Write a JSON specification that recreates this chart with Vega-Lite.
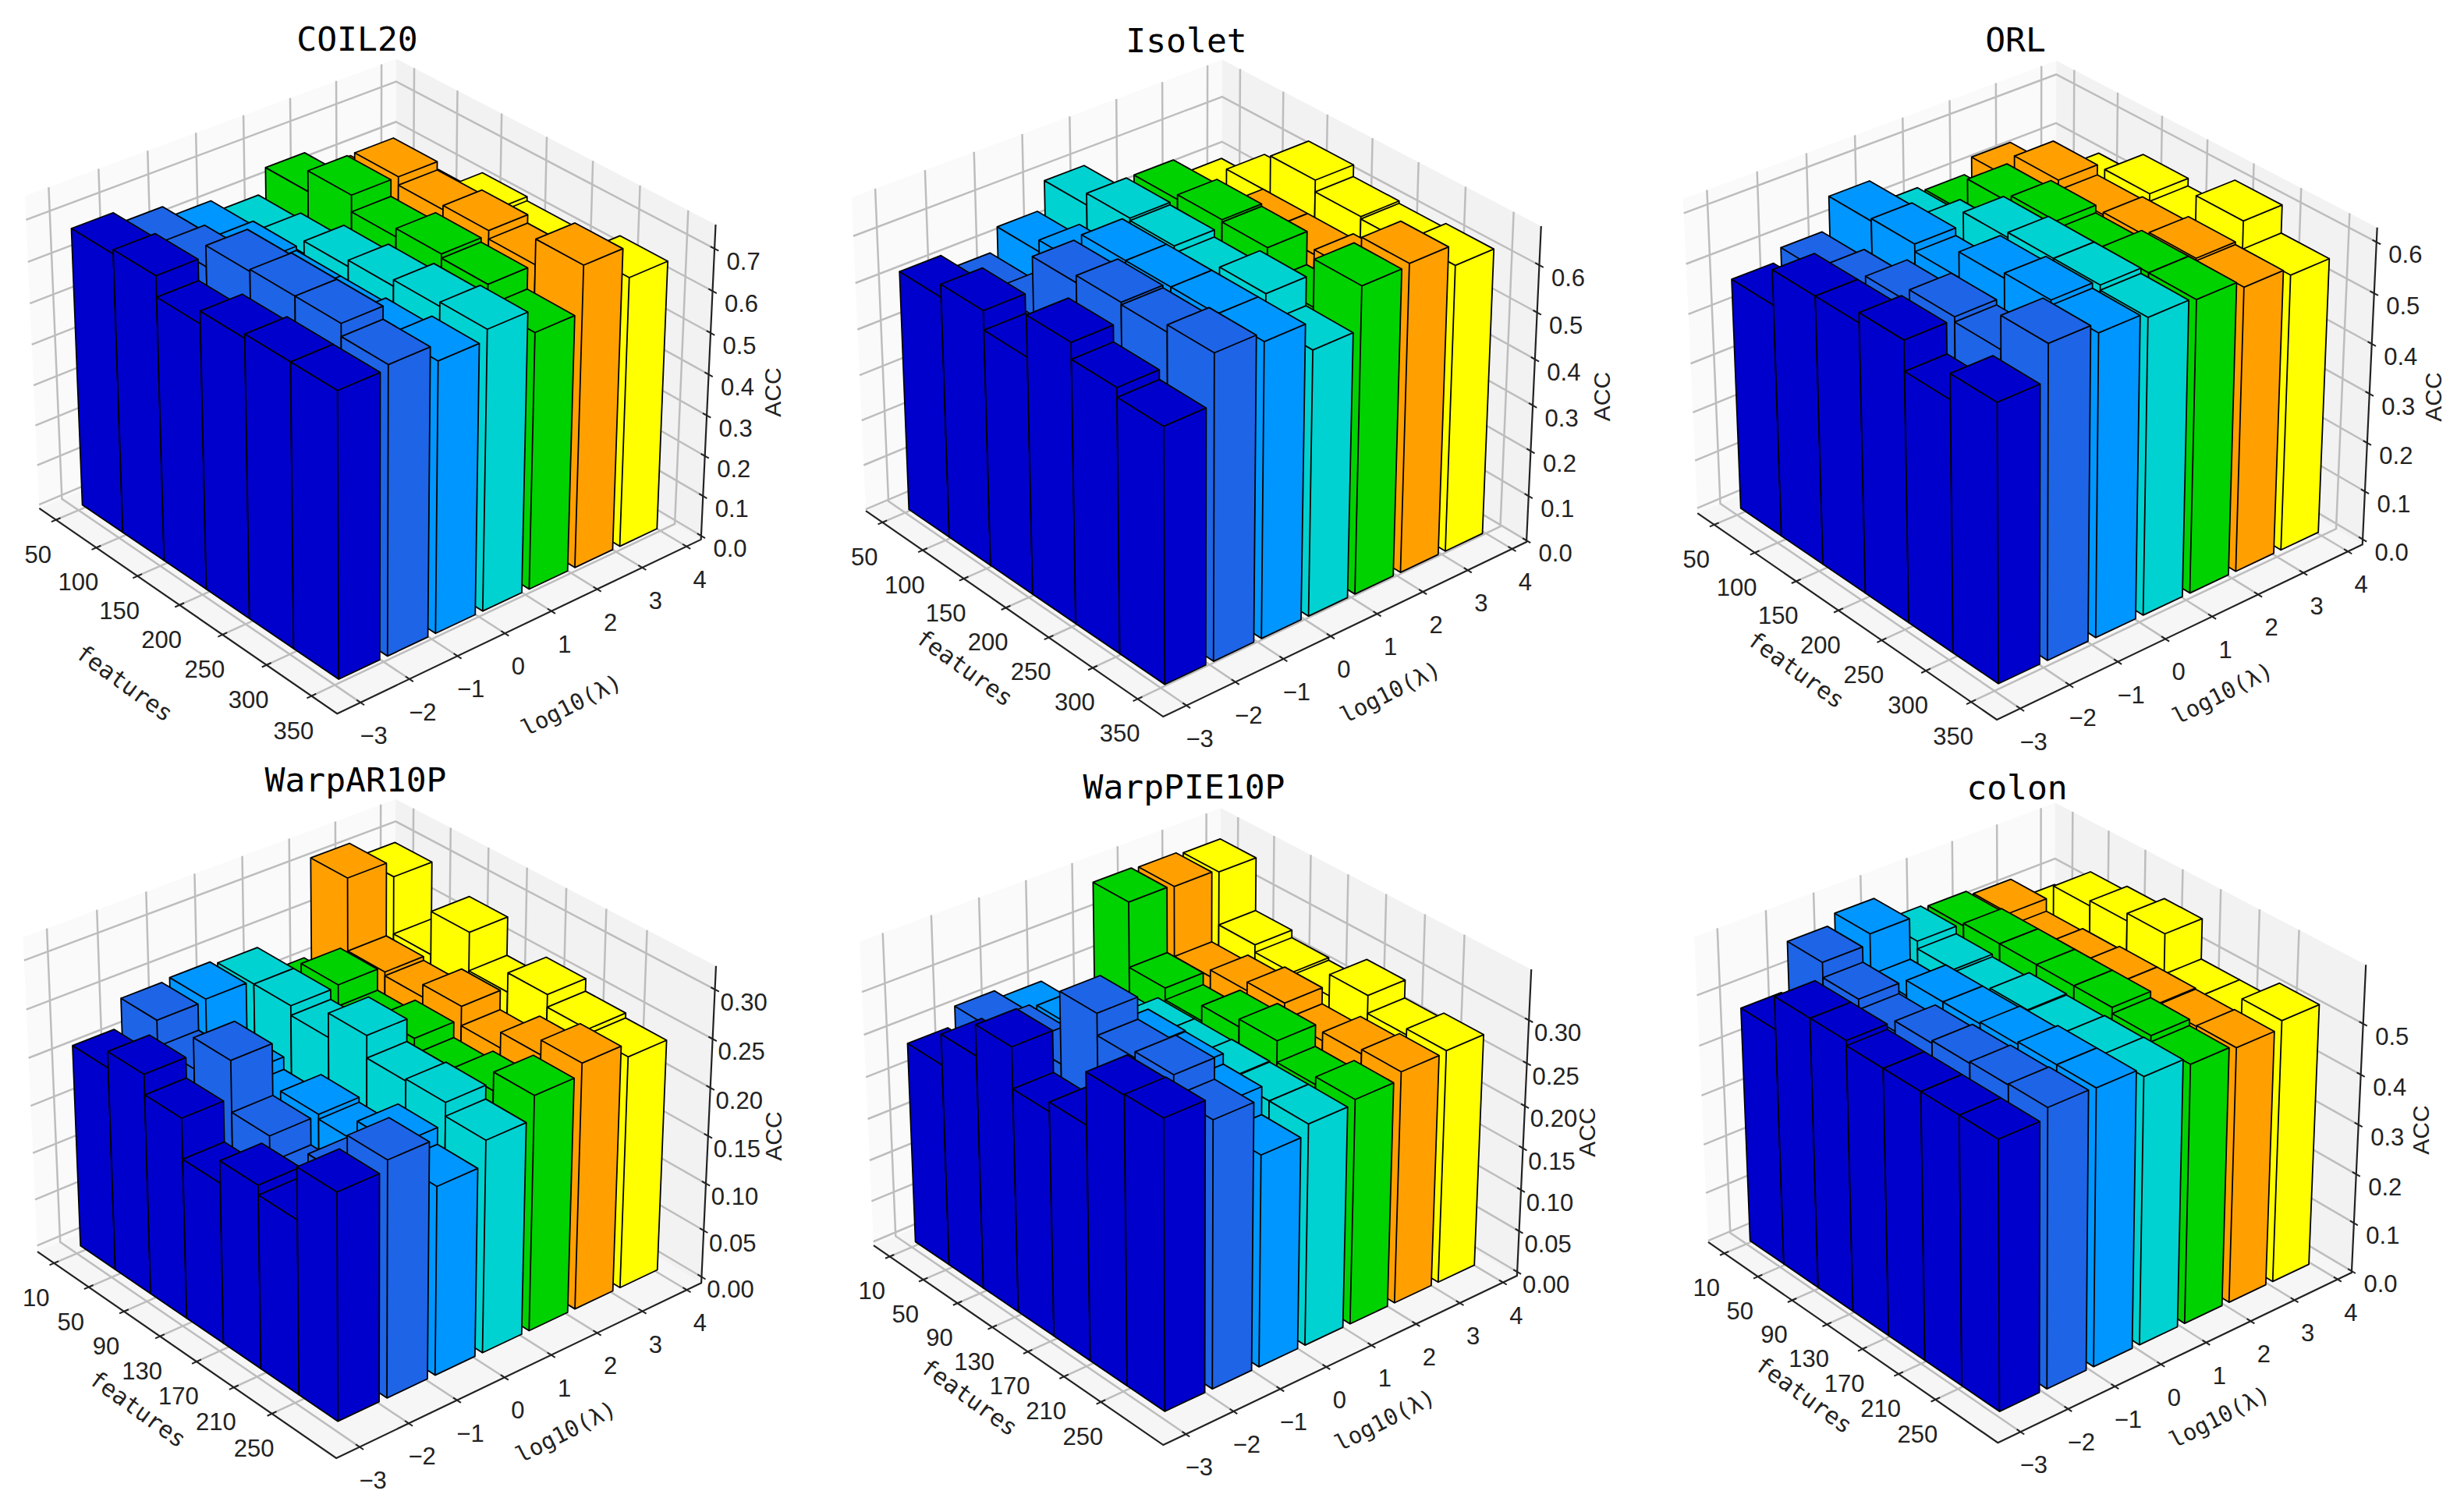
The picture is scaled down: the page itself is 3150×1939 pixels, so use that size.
{"$schema":"https://vega.github.io/schema/vega-lite/v6.json","width":3150,"height":1939,"autosize":{"type":"fit","contains":"padding"},"padding":0,"background":"white","config":{"view":{"stroke":null}},
"params":[{"name":"P","value":{
"COIL20":{"ox":472,"oy":475,"s":615,"t":619,"f0":29,"R":349,"dx":50,"w0":0.0125,"c":1.306,"tx":458,"ty":52,"fx":-313,"fy":402,"lx":261,"ly":430,"ax":520,"ay":28},
"Isolet":{"ox":1531,"oy":477.5,"s":614,"t":621,"f0":29,"R":349,"dx":50,"w0":0.005,"c":1.46,"tx":1521,"ty":54,"fx":-295,"fy":380,"lx":252,"ly":411,"ax":524,"ay":31},
"ORL":{"ox":2600,"oy":480,"s":618,"t":623,"f0":29,"R":349,"dx":50,"w0":0.017,"c":1.565,"tx":2584,"ty":53,"fx":-298,"fy":380,"lx":250,"ly":410,"ax":521,"ay":29},
"WarpAR10P":{"ox":471,"oy":1427,"s":617,"t":623,"f0":-9.5,"R":325.5,"dx":40,"w0":0.02,"c":3.03,"tx":456,"ty":1002,"fx":-295,"fy":381,"lx":255,"ly":410,"ax":522,"ay":30},
"WarpPIE10P":{"ox":1530,"oy":1425,"s":598,"t":602,"f0":-9.5,"R":325.5,"dx":40,"w0":0.013,"c":2.757,"tx":1518,"ty":1011,"fx":-288,"fy":368,"lx":246,"ly":397,"ax":506,"ay":27},
"colon":{"ox":2600,"oy":1420,"s":598,"t":605,"f0":-9.5,"R":325.5,"dx":40,"w0":0.005,"c":1.62,"tx":2586,"ty":1012,"fx":-288,"fy":370,"lx":246,"ly":398,"ax":505,"ay":29}}}],
"datasets":{
"panels":[{"p":"COIL20"},{"p":"Isolet"},{"p":"ORL"},{"p":"WarpAR10P"},{"p":"WarpPIE10P"},{"p":"colon"}],
"ticks":[
{"p":"COIL20","a":"f","t":50,"s":"50"},{"p":"COIL20","a":"f","t":100,"s":"100"},{"p":"COIL20","a":"f","t":150,"s":"150"},{"p":"COIL20","a":"f","t":200,"s":"200"},{"p":"COIL20","a":"f","t":250,"s":"250"},{"p":"COIL20","a":"f","t":300,"s":"300"},{"p":"COIL20","a":"f","t":350,"s":"350"},
{"p":"Isolet","a":"f","t":50,"s":"50"},{"p":"Isolet","a":"f","t":100,"s":"100"},{"p":"Isolet","a":"f","t":150,"s":"150"},{"p":"Isolet","a":"f","t":200,"s":"200"},{"p":"Isolet","a":"f","t":250,"s":"250"},{"p":"Isolet","a":"f","t":300,"s":"300"},{"p":"Isolet","a":"f","t":350,"s":"350"},
{"p":"ORL","a":"f","t":50,"s":"50"},{"p":"ORL","a":"f","t":100,"s":"100"},{"p":"ORL","a":"f","t":150,"s":"150"},{"p":"ORL","a":"f","t":200,"s":"200"},{"p":"ORL","a":"f","t":250,"s":"250"},{"p":"ORL","a":"f","t":300,"s":"300"},{"p":"ORL","a":"f","t":350,"s":"350"},
{"p":"WarpAR10P","a":"f","t":10,"s":"10"},{"p":"WarpAR10P","a":"f","t":50,"s":"50"},{"p":"WarpAR10P","a":"f","t":90,"s":"90"},{"p":"WarpAR10P","a":"f","t":130,"s":"130"},{"p":"WarpAR10P","a":"f","t":170,"s":"170"},{"p":"WarpAR10P","a":"f","t":210,"s":"210"},{"p":"WarpAR10P","a":"f","t":250,"s":"250"},
{"p":"WarpPIE10P","a":"f","t":10,"s":"10"},{"p":"WarpPIE10P","a":"f","t":50,"s":"50"},{"p":"WarpPIE10P","a":"f","t":90,"s":"90"},{"p":"WarpPIE10P","a":"f","t":130,"s":"130"},{"p":"WarpPIE10P","a":"f","t":170,"s":"170"},{"p":"WarpPIE10P","a":"f","t":210,"s":"210"},{"p":"WarpPIE10P","a":"f","t":250,"s":"250"},
{"p":"colon","a":"f","t":10,"s":"10"},{"p":"colon","a":"f","t":50,"s":"50"},{"p":"colon","a":"f","t":90,"s":"90"},{"p":"colon","a":"f","t":130,"s":"130"},{"p":"colon","a":"f","t":170,"s":"170"},{"p":"colon","a":"f","t":210,"s":"210"},{"p":"colon","a":"f","t":250,"s":"250"},
{"p":"COIL20","a":"l","t":-3,"s":"−3"},{"p":"COIL20","a":"l","t":-2,"s":"−2"},{"p":"COIL20","a":"l","t":-1,"s":"−1"},{"p":"COIL20","a":"l","t":0,"s":"0"},{"p":"COIL20","a":"l","t":1,"s":"1"},{"p":"COIL20","a":"l","t":2,"s":"2"},{"p":"COIL20","a":"l","t":3,"s":"3"},{"p":"COIL20","a":"l","t":4,"s":"4"},
{"p":"Isolet","a":"l","t":-3,"s":"−3"},{"p":"Isolet","a":"l","t":-2,"s":"−2"},{"p":"Isolet","a":"l","t":-1,"s":"−1"},{"p":"Isolet","a":"l","t":0,"s":"0"},{"p":"Isolet","a":"l","t":1,"s":"1"},{"p":"Isolet","a":"l","t":2,"s":"2"},{"p":"Isolet","a":"l","t":3,"s":"3"},{"p":"Isolet","a":"l","t":4,"s":"4"},
{"p":"ORL","a":"l","t":-3,"s":"−3"},{"p":"ORL","a":"l","t":-2,"s":"−2"},{"p":"ORL","a":"l","t":-1,"s":"−1"},{"p":"ORL","a":"l","t":0,"s":"0"},{"p":"ORL","a":"l","t":1,"s":"1"},{"p":"ORL","a":"l","t":2,"s":"2"},{"p":"ORL","a":"l","t":3,"s":"3"},{"p":"ORL","a":"l","t":4,"s":"4"},
{"p":"WarpAR10P","a":"l","t":-3,"s":"−3"},{"p":"WarpAR10P","a":"l","t":-2,"s":"−2"},{"p":"WarpAR10P","a":"l","t":-1,"s":"−1"},{"p":"WarpAR10P","a":"l","t":0,"s":"0"},{"p":"WarpAR10P","a":"l","t":1,"s":"1"},{"p":"WarpAR10P","a":"l","t":2,"s":"2"},{"p":"WarpAR10P","a":"l","t":3,"s":"3"},{"p":"WarpAR10P","a":"l","t":4,"s":"4"},
{"p":"WarpPIE10P","a":"l","t":-3,"s":"−3"},{"p":"WarpPIE10P","a":"l","t":-2,"s":"−2"},{"p":"WarpPIE10P","a":"l","t":-1,"s":"−1"},{"p":"WarpPIE10P","a":"l","t":0,"s":"0"},{"p":"WarpPIE10P","a":"l","t":1,"s":"1"},{"p":"WarpPIE10P","a":"l","t":2,"s":"2"},{"p":"WarpPIE10P","a":"l","t":3,"s":"3"},{"p":"WarpPIE10P","a":"l","t":4,"s":"4"},
{"p":"colon","a":"l","t":-3,"s":"−3"},{"p":"colon","a":"l","t":-2,"s":"−2"},{"p":"colon","a":"l","t":-1,"s":"−1"},{"p":"colon","a":"l","t":0,"s":"0"},{"p":"colon","a":"l","t":1,"s":"1"},{"p":"colon","a":"l","t":2,"s":"2"},{"p":"colon","a":"l","t":3,"s":"3"},{"p":"colon","a":"l","t":4,"s":"4"},
{"p":"COIL20","a":"z","t":0,"s":"0.0"},{"p":"COIL20","a":"z","t":0.1,"s":"0.1"},{"p":"COIL20","a":"z","t":0.2,"s":"0.2"},{"p":"COIL20","a":"z","t":0.3,"s":"0.3"},{"p":"COIL20","a":"z","t":0.4,"s":"0.4"},{"p":"COIL20","a":"z","t":0.5,"s":"0.5"},{"p":"COIL20","a":"z","t":0.6,"s":"0.6"},{"p":"COIL20","a":"z","t":0.7,"s":"0.7"},
{"p":"Isolet","a":"z","t":0,"s":"0.0"},{"p":"Isolet","a":"z","t":0.1,"s":"0.1"},{"p":"Isolet","a":"z","t":0.2,"s":"0.2"},{"p":"Isolet","a":"z","t":0.3,"s":"0.3"},{"p":"Isolet","a":"z","t":0.4,"s":"0.4"},{"p":"Isolet","a":"z","t":0.5,"s":"0.5"},{"p":"Isolet","a":"z","t":0.6,"s":"0.6"},
{"p":"ORL","a":"z","t":0,"s":"0.0"},{"p":"ORL","a":"z","t":0.1,"s":"0.1"},{"p":"ORL","a":"z","t":0.2,"s":"0.2"},{"p":"ORL","a":"z","t":0.3,"s":"0.3"},{"p":"ORL","a":"z","t":0.4,"s":"0.4"},{"p":"ORL","a":"z","t":0.5,"s":"0.5"},{"p":"ORL","a":"z","t":0.6,"s":"0.6"},
{"p":"WarpAR10P","a":"z","t":0,"s":"0.00"},{"p":"WarpAR10P","a":"z","t":0.05,"s":"0.05"},{"p":"WarpAR10P","a":"z","t":0.1,"s":"0.10"},{"p":"WarpAR10P","a":"z","t":0.15,"s":"0.15"},{"p":"WarpAR10P","a":"z","t":0.2,"s":"0.20"},{"p":"WarpAR10P","a":"z","t":0.25,"s":"0.25"},{"p":"WarpAR10P","a":"z","t":0.3,"s":"0.30"},
{"p":"WarpPIE10P","a":"z","t":0,"s":"0.00"},{"p":"WarpPIE10P","a":"z","t":0.05,"s":"0.05"},{"p":"WarpPIE10P","a":"z","t":0.1,"s":"0.10"},{"p":"WarpPIE10P","a":"z","t":0.15,"s":"0.15"},{"p":"WarpPIE10P","a":"z","t":0.2,"s":"0.20"},{"p":"WarpPIE10P","a":"z","t":0.25,"s":"0.25"},{"p":"WarpPIE10P","a":"z","t":0.3,"s":"0.30"},
{"p":"colon","a":"z","t":0,"s":"0.0"},{"p":"colon","a":"z","t":0.1,"s":"0.1"},{"p":"colon","a":"z","t":0.2,"s":"0.2"},{"p":"colon","a":"z","t":0.3,"s":"0.3"},{"p":"colon","a":"z","t":0.4,"s":"0.4"},{"p":"colon","a":"z","t":0.5,"s":"0.5"}],
"bars":[
{"p":"COIL20","f":50,"l":3,"acc":0.53},{"p":"COIL20","f":50,"l":2,"acc":0.60},{"p":"COIL20","f":50,"l":1,"acc":0.65},{"p":"COIL20","f":50,"l":0,"acc":0.59},{"p":"COIL20","f":50,"l":-1,"acc":0.62},{"p":"COIL20","f":50,"l":-2,"acc":0.65},{"p":"COIL20","f":50,"l":-3,"acc":0.68},
{"p":"COIL20","f":100,"l":3,"acc":0.58},{"p":"COIL20","f":100,"l":2,"acc":0.70},{"p":"COIL20","f":100,"l":1,"acc":0.70},{"p":"COIL20","f":100,"l":0,"acc":0.605},{"p":"COIL20","f":100,"l":-1,"acc":0.63},{"p":"COIL20","f":100,"l":-2,"acc":0.665},{"p":"COIL20","f":100,"l":-3,"acc":0.69},
{"p":"COIL20","f":150,"l":3,"acc":0.63},{"p":"COIL20","f":150,"l":2,"acc":0.68},{"p":"COIL20","f":150,"l":1,"acc":0.66},{"p":"COIL20","f":150,"l":0,"acc":0.635},{"p":"COIL20","f":150,"l":-1,"acc":0.62},{"p":"COIL20","f":150,"l":-2,"acc":0.715},{"p":"COIL20","f":150,"l":-3,"acc":0.64},
{"p":"COIL20","f":200,"l":3,"acc":0.62},{"p":"COIL20","f":200,"l":2,"acc":0.69},{"p":"COIL20","f":200,"l":1,"acc":0.68},{"p":"COIL20","f":200,"l":0,"acc":0.65},{"p":"COIL20","f":200,"l":-1,"acc":0.62},{"p":"COIL20","f":200,"l":-2,"acc":0.72},{"p":"COIL20","f":200,"l":-3,"acc":0.67},
{"p":"COIL20","f":250,"l":3,"acc":0.60},{"p":"COIL20","f":250,"l":2,"acc":0.67},{"p":"COIL20","f":250,"l":1,"acc":0.67},{"p":"COIL20","f":250,"l":0,"acc":0.665},{"p":"COIL20","f":250,"l":-1,"acc":0.63},{"p":"COIL20","f":250,"l":-2,"acc":0.72},{"p":"COIL20","f":250,"l":-3,"acc":0.68},
{"p":"COIL20","f":300,"l":3,"acc":0.655},{"p":"COIL20","f":300,"l":2,"acc":0.73},{"p":"COIL20","f":300,"l":1,"acc":0.62},{"p":"COIL20","f":300,"l":0,"acc":0.675},{"p":"COIL20","f":300,"l":-1,"acc":0.65},{"p":"COIL20","f":300,"l":-2,"acc":0.69},{"p":"COIL20","f":300,"l":-3,"acc":0.68},
{"p":"Isolet","f":50,"l":3,"acc":0.50},{"p":"Isolet","f":50,"l":2,"acc":0.47},{"p":"Isolet","f":50,"l":1,"acc":0.52},{"p":"Isolet","f":50,"l":0,"acc":0.60},{"p":"Isolet","f":50,"l":-1,"acc":0.54},{"p":"Isolet","f":50,"l":-2,"acc":0.49},{"p":"Isolet","f":50,"l":-3,"acc":0.525},
{"p":"Isolet","f":100,"l":3,"acc":0.56},{"p":"Isolet","f":100,"l":2,"acc":0.54},{"p":"Isolet","f":100,"l":1,"acc":0.625},{"p":"Isolet","f":100,"l":0,"acc":0.625},{"p":"Isolet","f":100,"l":-1,"acc":0.565},{"p":"Isolet","f":100,"l":-2,"acc":0.50},{"p":"Isolet","f":100,"l":-3,"acc":0.553},
{"p":"Isolet","f":150,"l":3,"acc":0.64},{"p":"Isolet","f":150,"l":2,"acc":0.575},{"p":"Isolet","f":150,"l":1,"acc":0.635},{"p":"Isolet","f":150,"l":0,"acc":0.62},{"p":"Isolet","f":150,"l":-1,"acc":0.63},{"p":"Isolet","f":150,"l":-2,"acc":0.625},{"p":"Isolet","f":150,"l":-3,"acc":0.512},
{"p":"Isolet","f":200,"l":3,"acc":0.615},{"p":"Isolet","f":200,"l":2,"acc":0.575},{"p":"Isolet","f":200,"l":1,"acc":0.63},{"p":"Isolet","f":200,"l":0,"acc":0.605},{"p":"Isolet","f":200,"l":-1,"acc":0.63},{"p":"Isolet","f":200,"l":-2,"acc":0.64},{"p":"Isolet","f":200,"l":-3,"acc":0.60},
{"p":"Isolet","f":250,"l":3,"acc":0.61},{"p":"Isolet","f":250,"l":2,"acc":0.585},{"p":"Isolet","f":250,"l":1,"acc":0.56},{"p":"Isolet","f":250,"l":0,"acc":0.63},{"p":"Isolet","f":250,"l":-1,"acc":0.63},{"p":"Isolet","f":250,"l":-2,"acc":0.635},{"p":"Isolet","f":250,"l":-3,"acc":0.565},
{"p":"Isolet","f":300,"l":3,"acc":0.62},{"p":"Isolet","f":300,"l":2,"acc":0.665},{"p":"Isolet","f":300,"l":1,"acc":0.66},{"p":"Isolet","f":300,"l":0,"acc":0.57},{"p":"Isolet","f":300,"l":-1,"acc":0.63},{"p":"Isolet","f":300,"l":-2,"acc":0.65},{"p":"Isolet","f":300,"l":-3,"acc":0.545},
{"p":"ORL","f":50,"l":3,"acc":0.475},{"p":"ORL","f":50,"l":2,"acc":0.53},{"p":"ORL","f":50,"l":1,"acc":0.50},{"p":"ORL","f":50,"l":0,"acc":0.51},{"p":"ORL","f":50,"l":-1,"acc":0.56},{"p":"ORL","f":50,"l":-2,"acc":0.495},{"p":"ORL","f":50,"l":-3,"acc":0.47},
{"p":"ORL","f":100,"l":3,"acc":0.52},{"p":"ORL","f":100,"l":2,"acc":0.58},{"p":"ORL","f":100,"l":1,"acc":0.57},{"p":"ORL","f":100,"l":0,"acc":0.535},{"p":"ORL","f":100,"l":-1,"acc":0.565},{"p":"ORL","f":100,"l":-2,"acc":0.51},{"p":"ORL","f":100,"l":-3,"acc":0.54},
{"p":"ORL","f":150,"l":3,"acc":0.565},{"p":"ORL","f":150,"l":2,"acc":0.56},{"p":"ORL","f":150,"l":1,"acc":0.585},{"p":"ORL","f":150,"l":0,"acc":0.59},{"p":"ORL","f":150,"l":-1,"acc":0.55},{"p":"ORL","f":150,"l":-2,"acc":0.54},{"p":"ORL","f":150,"l":-3,"acc":0.54},
{"p":"ORL","f":200,"l":3,"acc":0.55},{"p":"ORL","f":200,"l":2,"acc":0.565},{"p":"ORL","f":200,"l":1,"acc":0.57},{"p":"ORL","f":200,"l":0,"acc":0.60},{"p":"ORL","f":200,"l":-1,"acc":0.60},{"p":"ORL","f":200,"l":-2,"acc":0.565},{"p":"ORL","f":200,"l":-3,"acc":0.56},
{"p":"ORL","f":250,"l":3,"acc":0.61},{"p":"ORL","f":250,"l":2,"acc":0.575},{"p":"ORL","f":250,"l":1,"acc":0.585},{"p":"ORL","f":250,"l":0,"acc":0.60},{"p":"ORL","f":250,"l":-1,"acc":0.61},{"p":"ORL","f":250,"l":-2,"acc":0.555},{"p":"ORL","f":250,"l":-3,"acc":0.50},
{"p":"ORL","f":300,"l":3,"acc":0.555},{"p":"ORL","f":300,"l":2,"acc":0.57},{"p":"ORL","f":300,"l":1,"acc":0.585},{"p":"ORL","f":300,"l":0,"acc":0.59},{"p":"ORL","f":300,"l":-1,"acc":0.60},{"p":"ORL","f":300,"l":-2,"acc":0.62},{"p":"ORL","f":300,"l":-3,"acc":0.55},
{"p":"WarpAR10P","f":10,"l":3,"acc":0.295},{"p":"WarpAR10P","f":10,"l":2,"acc":0.312},{"p":"WarpAR10P","f":10,"l":1,"acc":0.21},{"p":"WarpAR10P","f":10,"l":0,"acc":0.24},{"p":"WarpAR10P","f":10,"l":-1,"acc":0.244},{"p":"WarpAR10P","f":10,"l":-2,"acc":0.242},{"p":"WarpAR10P","f":10,"l":-3,"acc":0.213},
{"p":"WarpAR10P","f":50,"l":3,"acc":0.235},{"p":"WarpAR10P","f":50,"l":2,"acc":0.236},{"p":"WarpAR10P","f":50,"l":1,"acc":0.242},{"p":"WarpAR10P","f":50,"l":0,"acc":0.24},{"p":"WarpAR10P","f":50,"l":-1,"acc":0.19},{"p":"WarpAR10P","f":50,"l":-2,"acc":0.215},{"p":"WarpAR10P","f":50,"l":-3,"acc":0.23},
{"p":"WarpAR10P","f":90,"l":3,"acc":0.28},{"p":"WarpAR10P","f":90,"l":2,"acc":0.232},{"p":"WarpAR10P","f":90,"l":1,"acc":0.22},{"p":"WarpAR10P","f":90,"l":0,"acc":0.23},{"p":"WarpAR10P","f":90,"l":-1,"acc":0.177},{"p":"WarpAR10P","f":90,"l":-2,"acc":0.247},{"p":"WarpAR10P","f":90,"l":-3,"acc":0.209},
{"p":"WarpAR10P","f":130,"l":3,"acc":0.24},{"p":"WarpAR10P","f":130,"l":2,"acc":0.245},{"p":"WarpAR10P","f":130,"l":1,"acc":0.232},{"p":"WarpAR10P","f":130,"l":0,"acc":0.255},{"p":"WarpAR10P","f":130,"l":-1,"acc":0.195},{"p":"WarpAR10P","f":130,"l":-2,"acc":0.194},{"p":"WarpAR10P","f":130,"l":-3,"acc":0.167},
{"p":"WarpAR10P","f":170,"l":3,"acc":0.26},{"p":"WarpAR10P","f":170,"l":2,"acc":0.225},{"p":"WarpAR10P","f":170,"l":1,"acc":0.216},{"p":"WarpAR10P","f":170,"l":0,"acc":0.232},{"p":"WarpAR10P","f":170,"l":-1,"acc":0.19},{"p":"WarpAR10P","f":170,"l":-2,"acc":0.167},{"p":"WarpAR10P","f":170,"l":-3,"acc":0.19},
{"p":"WarpAR10P","f":210,"l":3,"acc":0.247},{"p":"WarpAR10P","f":210,"l":2,"acc":0.241},{"p":"WarpAR10P","f":210,"l":1,"acc":0.225},{"p":"WarpAR10P","f":210,"l":0,"acc":0.234},{"p":"WarpAR10P","f":210,"l":-1,"acc":0.212},{"p":"WarpAR10P","f":210,"l":-2,"acc":0.20},{"p":"WarpAR10P","f":210,"l":-3,"acc":0.18},
{"p":"WarpAR10P","f":250,"l":3,"acc":0.242},{"p":"WarpAR10P","f":250,"l":2,"acc":0.256},{"p":"WarpAR10P","f":250,"l":1,"acc":0.244},{"p":"WarpAR10P","f":250,"l":0,"acc":0.22},{"p":"WarpAR10P","f":250,"l":-1,"acc":0.195},{"p":"WarpAR10P","f":250,"l":-2,"acc":0.243},{"p":"WarpAR10P","f":250,"l":-3,"acc":0.233},
{"p":"WarpPIE10P","f":10,"l":3,"acc":0.34},{"p":"WarpPIE10P","f":10,"l":2,"acc":0.343},{"p":"WarpPIE10P","f":10,"l":1,"acc":0.345},{"p":"WarpPIE10P","f":10,"l":0,"acc":0.225},{"p":"WarpPIE10P","f":10,"l":-1,"acc":0.252},{"p":"WarpPIE10P","f":10,"l":-2,"acc":0.262},{"p":"WarpPIE10P","f":10,"l":-3,"acc":0.24},
{"p":"WarpPIE10P","f":50,"l":3,"acc":0.277},{"p":"WarpPIE10P","f":50,"l":2,"acc":0.26},{"p":"WarpPIE10P","f":50,"l":1,"acc":0.268},{"p":"WarpPIE10P","f":50,"l":0,"acc":0.245},{"p":"WarpPIE10P","f":50,"l":-1,"acc":0.266},{"p":"WarpPIE10P","f":50,"l":-2,"acc":0.27},{"p":"WarpPIE10P","f":50,"l":-3,"acc":0.276},
{"p":"WarpPIE10P","f":90,"l":3,"acc":0.268},{"p":"WarpPIE10P","f":90,"l":2,"acc":0.268},{"p":"WarpPIE10P","f":90,"l":1,"acc":0.254},{"p":"WarpPIE10P","f":90,"l":0,"acc":0.26},{"p":"WarpPIE10P","f":90,"l":-1,"acc":0.26},{"p":"WarpPIE10P","f":90,"l":-2,"acc":0.27},{"p":"WarpPIE10P","f":90,"l":-3,"acc":0.312},
{"p":"WarpPIE10P","f":130,"l":3,"acc":0.265},{"p":"WarpPIE10P","f":130,"l":2,"acc":0.278},{"p":"WarpPIE10P","f":130,"l":1,"acc":0.272},{"p":"WarpPIE10P","f":130,"l":0,"acc":0.26},{"p":"WarpPIE10P","f":130,"l":-1,"acc":0.293},{"p":"WarpPIE10P","f":130,"l":-2,"acc":0.353},{"p":"WarpPIE10P","f":130,"l":-3,"acc":0.264},
{"p":"WarpPIE10P","f":170,"l":3,"acc":0.29},{"p":"WarpPIE10P","f":170,"l":2,"acc":0.259},{"p":"WarpPIE10P","f":170,"l":1,"acc":0.281},{"p":"WarpPIE10P","f":170,"l":0,"acc":0.261},{"p":"WarpPIE10P","f":170,"l":-1,"acc":0.292},{"p":"WarpPIE10P","f":170,"l":-2,"acc":0.328},{"p":"WarpPIE10P","f":170,"l":-3,"acc":0.275},
{"p":"WarpPIE10P","f":210,"l":3,"acc":0.269},{"p":"WarpPIE10P","f":210,"l":2,"acc":0.269},{"p":"WarpPIE10P","f":210,"l":1,"acc":0.256},{"p":"WarpPIE10P","f":210,"l":0,"acc":0.26},{"p":"WarpPIE10P","f":210,"l":-1,"acc":0.28},{"p":"WarpPIE10P","f":210,"l":-2,"acc":0.335},{"p":"WarpPIE10P","f":210,"l":-3,"acc":0.335},
{"p":"WarpPIE10P","f":250,"l":3,"acc":0.276},{"p":"WarpPIE10P","f":250,"l":2,"acc":0.274},{"p":"WarpPIE10P","f":250,"l":1,"acc":0.265},{"p":"WarpPIE10P","f":250,"l":0,"acc":0.26},{"p":"WarpPIE10P","f":250,"l":-1,"acc":0.248},{"p":"WarpPIE10P","f":250,"l":-2,"acc":0.311},{"p":"WarpPIE10P","f":250,"l":-3,"acc":0.336},
{"p":"colon","f":10,"l":3,"acc":0.48},{"p":"colon","f":10,"l":2,"acc":0.525},{"p":"colon","f":10,"l":1,"acc":0.535},{"p":"colon","f":10,"l":0,"acc":0.54},{"p":"colon","f":10,"l":-1,"acc":0.59},{"p":"colon","f":10,"l":-2,"acc":0.57},{"p":"colon","f":10,"l":-3,"acc":0.475},
{"p":"colon","f":50,"l":3,"acc":0.545},{"p":"colon","f":50,"l":2,"acc":0.50},{"p":"colon","f":50,"l":1,"acc":0.54},{"p":"colon","f":50,"l":0,"acc":0.525},{"p":"colon","f":50,"l":-1,"acc":0.51},{"p":"colon","f":50,"l":-2,"acc":0.54},{"p":"colon","f":50,"l":-3,"acc":0.54},
{"p":"colon","f":90,"l":3,"acc":0.555},{"p":"colon","f":90,"l":2,"acc":0.505},{"p":"colon","f":90,"l":1,"acc":0.54},{"p":"colon","f":90,"l":0,"acc":0.52},{"p":"colon","f":90,"l":-1,"acc":0.54},{"p":"colon","f":90,"l":-2,"acc":0.52},{"p":"colon","f":90,"l":-3,"acc":0.54},
{"p":"colon","f":130,"l":3,"acc":0.57},{"p":"colon","f":130,"l":2,"acc":0.51},{"p":"colon","f":130,"l":1,"acc":0.54},{"p":"colon","f":130,"l":0,"acc":0.53},{"p":"colon","f":130,"l":-1,"acc":0.54},{"p":"colon","f":130,"l":-2,"acc":0.54},{"p":"colon","f":130,"l":-3,"acc":0.53},
{"p":"colon","f":170,"l":3,"acc":0.49},{"p":"colon","f":170,"l":2,"acc":0.51},{"p":"colon","f":170,"l":1,"acc":0.54},{"p":"colon","f":170,"l":0,"acc":0.528},{"p":"colon","f":170,"l":-1,"acc":0.543},{"p":"colon","f":170,"l":-2,"acc":0.545},{"p":"colon","f":170,"l":-3,"acc":0.53},
{"p":"colon","f":210,"l":3,"acc":0.49},{"p":"colon","f":210,"l":2,"acc":0.508},{"p":"colon","f":210,"l":1,"acc":0.528},{"p":"colon","f":210,"l":0,"acc":0.53},{"p":"colon","f":210,"l":-1,"acc":0.548},{"p":"colon","f":210,"l":-2,"acc":0.548},{"p":"colon","f":210,"l":-3,"acc":0.53},
{"p":"colon","f":250,"l":3,"acc":0.525},{"p":"colon","f":250,"l":2,"acc":0.51},{"p":"colon","f":250,"l":1,"acc":0.516},{"p":"colon","f":250,"l":0,"acc":0.531},{"p":"colon","f":250,"l":-1,"acc":0.548},{"p":"colon","f":250,"l":-2,"acc":0.55},{"p":"colon","f":250,"l":-3,"acc":0.53}
]},
"encoding":{"x":{"field":"sx","type":"quantitative","scale":{"domain":[0,3150],"nice":false,"zero":false},"axis":null},"y":{"field":"sy","type":"quantitative","scale":{"domain":[1939,0],"nice":false,"zero":false},"axis":null}},
"resolve":{"scale":{"fill":"independent"}},
"layer":[
{"data":{"name":"panels"},"transform":[
{"calculate":"[[0,0,0,0,0],[0,1,0,1,0],[0,2,0,1,1],[0,3,0,0,1],[1,0,0,1,0],[1,1,1,1,0],[1,2,1,1,1],[1,3,0,1,1],[2,0,0,0,0],[2,1,1,0,0],[2,2,1,1,0],[2,3,0,1,0]]","as":"q"},{"flatten":["q"]},
{"calculate":"datum.q[0]","as":"wall"},{"calculate":"datum.q[1]","as":"k"},{"calculate":"datum.q[2]","as":"u"},{"calculate":"datum.q[3]","as":"v"},{"calculate":"datum.q[4]","as":"w"},{"calculate":"datum.p+datum.wall","as":"id"},
{"calculate":"1/(1-(0.663*(datum.u-0.5)-0.557*(datum.v-0.5)+0.375*(datum.w-0.5))/8.75)","as":"pp"},
{"calculate":"P[datum.p].ox+P[datum.p].s*(0.643*(datum.u-0.5)+0.766*(datum.v-0.5))*datum.pp","as":"sx"},
{"calculate":"P[datum.p].oy-P[datum.p].t*(-0.383*(datum.u-0.5)+0.321*(datum.v-0.5)+0.6495*(datum.w-0.5))*datum.pp","as":"sy"}],
"mark":{"type":"line","stroke":"transparent","strokeWidth":0},
"encoding":{"detail":{"field":"id"},"order":{"field":"k","type":"quantitative"},"fill":{"field":"wall","type":"ordinal","scale":{"domain":[0,1,2],"range":["#fafafa","#f2f2f2","#f6f6f6"]},"legend":null}}},
{"data":{"name":"ticks"},"transform":[
{"calculate":"[0,1,2]","as":"k"},{"flatten":["k"]},
{"calculate":"datum.a=='f'?(datum.t-P[datum.p].f0)/P[datum.p].R:datum.a=='l'?(datum.k==2?0:datum.k==1?0:1):(datum.k==2?1:0)","as":"u"},
{"calculate":"datum.a=='f'?(datum.k==0?0:1):datum.a=='l'?(datum.t+3.47)/7.8:(datum.k==0?0:1)","as":"v"},
{"calculate":"datum.a=='z'?P[datum.p].w0+datum.t*P[datum.p].c:(datum.k==2?1:0)","as":"w"},
{"calculate":"datum.p+datum.a+datum.t","as":"id"},
{"calculate":"1/(1-(0.663*(datum.u-0.5)-0.557*(datum.v-0.5)+0.375*(datum.w-0.5))/8.75)","as":"pp"},
{"calculate":"P[datum.p].ox+P[datum.p].s*(0.643*(datum.u-0.5)+0.766*(datum.v-0.5))*datum.pp","as":"sx"},
{"calculate":"P[datum.p].oy-P[datum.p].t*(-0.383*(datum.u-0.5)+0.321*(datum.v-0.5)+0.6495*(datum.w-0.5))*datum.pp","as":"sy"}],
"mark":{"type":"line","stroke":"#bdbdbd","strokeWidth":2.5},
"encoding":{"detail":{"field":"id"},"order":{"field":"k","type":"quantitative"}}},
{"data":{"name":"bars"},"transform":[
{"calculate":"[[0,0,0],[1,0,0],[1,1,0],[1,1,1],[0,1,1],[0,0,1],[0,0,0],[0,0,1],[1,0,1],[1,0,0],[1,0,1],[1,1,1],[1,0,1],[0,0,1],[0,0,0]]","as":"q"},{"calculate":"[0,1,2,3,4,5,6,7,8,9,10,11,12,13,14]","as":"k"},{"flatten":["q","k"]},
{"calculate":"(datum.f+datum.q[0]*P[datum.p].dx-P[datum.p].f0)/P[datum.p].R","as":"u"},
{"calculate":"(datum.l+0.08+datum.q[1]*0.84+3.47)/7.8","as":"v"},
{"calculate":"P[datum.p].w0+datum.q[2]*datum.acc*P[datum.p].c","as":"w"},
{"calculate":"datum.p+'_'+datum.f+'_'+datum.l","as":"id"},
{"calculate":"1/(1-(0.663*(datum.u-0.5)-0.557*(datum.v-0.5)+0.375*(datum.w-0.5))/8.75)","as":"pp"},
{"calculate":"P[datum.p].ox+P[datum.p].s*(0.643*(datum.u-0.5)+0.766*(datum.v-0.5))*datum.pp","as":"sx"},
{"calculate":"P[datum.p].oy-P[datum.p].t*(-0.383*(datum.u-0.5)+0.321*(datum.v-0.5)+0.6495*(datum.w-0.5))*datum.pp","as":"sy"}],
"mark":{"type":"line","stroke":"#000000","strokeWidth":1.8,"strokeJoin":"round"},
"encoding":{"detail":{"field":"id"},"order":{"field":"k","type":"quantitative"},"fill":{"field":"l","type":"ordinal","scale":{"domain":[-3,-2,-1,0,1,2,3],"range":["#0000cd","#1e64e6","#0096ff","#00d2d2","#00d200","#ffa000","#ffff00"]},"legend":null}}},
{"data":{"name":"panels"},"transform":[
{"calculate":"[[0,0,0],[1,0,0],[1,1,0],[1,1,1]]","as":"q"},{"calculate":"[0,1,2,3]","as":"k"},{"flatten":["q","k"]},
{"calculate":"datum.q[0]","as":"u"},{"calculate":"datum.q[1]","as":"v"},{"calculate":"datum.q[2]","as":"w"},
{"calculate":"1/(1-(0.663*(datum.u-0.5)-0.557*(datum.v-0.5)+0.375*(datum.w-0.5))/8.75)","as":"pp"},
{"calculate":"P[datum.p].ox+P[datum.p].s*(0.643*(datum.u-0.5)+0.766*(datum.v-0.5))*datum.pp","as":"sx"},
{"calculate":"P[datum.p].oy-P[datum.p].t*(-0.383*(datum.u-0.5)+0.321*(datum.v-0.5)+0.6495*(datum.w-0.5))*datum.pp","as":"sy"}],
"mark":{"type":"line","stroke":"#222222","strokeWidth":2.2},
"encoding":{"detail":{"field":"p"},"order":{"field":"k","type":"quantitative"}}},
{"data":{"name":"ticks"},"transform":[
{"calculate":"[-1,1]","as":"k"},{"flatten":["k"]},
{"calculate":"datum.a=='f'?(datum.t-P[datum.p].f0)/P[datum.p].R:datum.a=='l'?1+0.012*datum.k:1+0.012*datum.k","as":"u"},
{"calculate":"datum.a=='f'?0.012*datum.k:datum.a=='l'?(datum.t+3.47)/7.8:1","as":"v"},
{"calculate":"datum.a=='z'?P[datum.p].w0+datum.t*P[datum.p].c:0","as":"w"},
{"calculate":"datum.p+datum.a+datum.t","as":"id"},
{"calculate":"1/(1-(0.663*(datum.u-0.5)-0.557*(datum.v-0.5)+0.375*(datum.w-0.5))/8.75)","as":"pp"},
{"calculate":"P[datum.p].ox+P[datum.p].s*(0.643*(datum.u-0.5)+0.766*(datum.v-0.5))*datum.pp","as":"sx"},
{"calculate":"P[datum.p].oy-P[datum.p].t*(-0.383*(datum.u-0.5)+0.321*(datum.v-0.5)+0.6495*(datum.w-0.5))*datum.pp","as":"sy"}],
"mark":{"type":"line","stroke":"#222222","strokeWidth":2},
"encoding":{"detail":{"field":"id"},"order":{"field":"k","type":"quantitative"}}},
{"data":{"name":"ticks"},"transform":[
{"calculate":"datum.a=='f'?(datum.t-P[datum.p].f0)/P[datum.p].R:1","as":"u"},
{"calculate":"datum.a=='f'?0:datum.a=='l'?(datum.t+3.47)/7.8:1","as":"v"},
{"calculate":"datum.a=='z'?P[datum.p].w0+datum.t*P[datum.p].c:0","as":"w"},
{"calculate":"1/(1-(0.663*(datum.u-0.5)-0.557*(datum.v-0.5)+0.375*(datum.w-0.5))/8.75)","as":"pp"},
{"calculate":"P[datum.p].ox+P[datum.p].s*(0.643*(datum.u-0.5)+0.766*(datum.v-0.5))*datum.pp+(datum.a=='f'?-23:datum.a=='l'?17:37)","as":"sx"},
{"calculate":"P[datum.p].oy-P[datum.p].t*(-0.383*(datum.u-0.5)+0.321*(datum.v-0.5)+0.6495*(datum.w-0.5))*datum.pp+(datum.a=='f'?46:datum.a=='l'?44:18)","as":"sy"}],
"mark":{"type":"text","font":"Liberation Sans","fontSize":31,"fill":"#222222","align":"center","baseline":"middle"},
"encoding":{"text":{"field":"s"}}},
{"data":{"name":"panels"},"transform":[{"calculate":"P[datum.p].tx","as":"sx"},{"calculate":"P[datum.p].ty","as":"sy"}],
"mark":{"type":"text","font":"DejaVu Sans Mono","fontSize":43,"fill":"#000000","align":"center","baseline":"middle"},
"encoding":{"text":{"field":"p"}}},
{"data":{"name":"panels"},"transform":[{"calculate":"P[datum.p].ox+P[datum.p].fx","as":"sx"},{"calculate":"P[datum.p].oy+P[datum.p].fy","as":"sy"}],
"mark":{"type":"text","font":"DejaVu Sans Mono","fontSize":30,"fill":"#222222","align":"center","baseline":"middle","angle":36},
"encoding":{"text":{"value":"features"}}},
{"data":{"name":"panels"},"transform":[{"calculate":"P[datum.p].ox+P[datum.p].lx","as":"sx"},{"calculate":"P[datum.p].oy+P[datum.p].ly","as":"sy"}],
"mark":{"type":"text","font":"DejaVu Sans Mono","fontSize":29,"fill":"#222222","align":"center","baseline":"middle","angle":-27},
"encoding":{"text":{"value":"log10(λ)"}}},
{"data":{"name":"panels"},"transform":[{"calculate":"P[datum.p].ox+P[datum.p].ax","as":"sx"},{"calculate":"P[datum.p].oy+P[datum.p].ay","as":"sy"}],
"mark":{"type":"text","font":"Liberation Sans","fontSize":30,"fill":"#222222","align":"center","baseline":"middle","angle":-90},
"encoding":{"text":{"value":"ACC"}}}
]}
